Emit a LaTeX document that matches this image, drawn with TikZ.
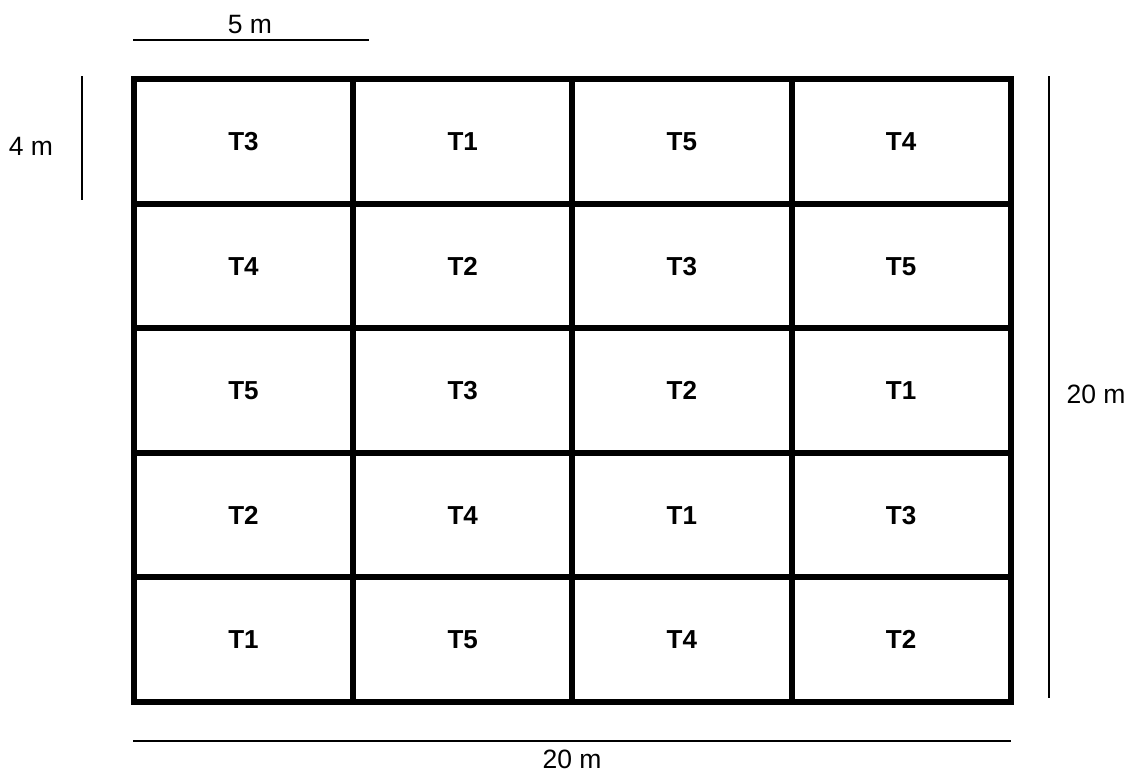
\documentclass[tikz,border=0pt]{standalone}
\usepackage{fontspec}
\setmainfont{Liberation Sans}
\begin{document}
\begin{tikzpicture}[x=1pt,y=-1pt,
  gridline/.style={line width=5.6pt,line cap=rect},
  dimline/.style={line width=1.4pt},
  cell/.style={font=\bfseries\fontsize{26}{30}\selectfont,inner sep=0pt,text height=18.6pt,text depth=0pt},
  dimtext/.style={font=\fontsize{26.5}{30}\selectfont,inner sep=0pt,text height=19pt,text depth=0pt}]
\useasboundingbox (0,0) rectangle (1129,771);
% grid
\foreach \xx in {134,353,572,792,1011}
  \draw[gridline] (\xx,79) -- (\xx,702);
\foreach \yy in {79,204,328,453,577,702}
  \draw[gridline] (134,\yy) -- (1011,\yy);
% labels
\foreach \lab [count=\c from 0] in {T3,T1,T5,T4}
  \node[cell] (r0c\c) at ({243.5+\c*219.2},141.5) {\lab};
\foreach \lab [count=\c from 0] in {T4,T2,T3,T5}
  \node[cell] (r1c\c) at ({243.5+\c*219.2},266) {\lab};
\foreach \lab [count=\c from 0] in {T5,T3,T2,T1}
  \node[cell] (r2c\c) at ({243.5+\c*219.2},390.5) {\lab};
\foreach \lab [count=\c from 0] in {T2,T4,T1,T3}
  \node[cell] (r3c\c) at ({243.5+\c*219.2},515) {\lab};
\foreach \lab [count=\c from 0] in {T1,T5,T4,T2}
  \node[cell] (r4c\c) at ({243.5+\c*219.2},639.5) {\lab};
% dimension lines
\coordinate (topA) at (133,40);
\coordinate (topB) at (369,40);
\draw[dimline] (topA) -- (topB);
\node[dimtext] (topT) at (250,24) {5 m};
\coordinate (leftA) at (82,76);
\coordinate (leftB) at (82,200);
\draw[dimline] (leftA) -- (leftB);
\node[dimtext] (leftT) at (31,146) {4 m};
\coordinate (rightA) at (1049,76);
\coordinate (rightB) at (1049,698);
\draw[dimline] (rightA) -- (rightB);
\node[dimtext] (rightT) at (1096,394) {20 m};
\coordinate (botA) at (133,741);
\coordinate (botB) at (1011,741);
\draw[dimline] (botA) -- (botB);
\node[dimtext] (botT) at (572,759) {20 m};
\end{tikzpicture}
\end{document}
